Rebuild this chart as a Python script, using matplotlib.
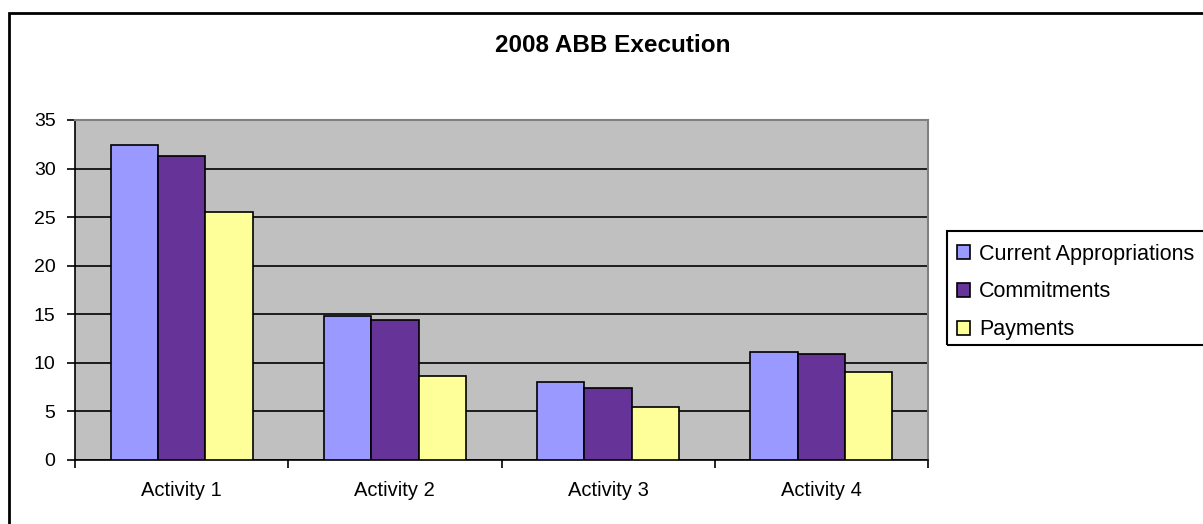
import matplotlib
matplotlib.use("Agg")
import matplotlib.pyplot as plt
import numpy as np
from matplotlib.patches import Rectangle

categories = ["Activity 1", "Activity 2", "Activity 3", "Activity 4"]
series_names = ["Current Appropriations", "Commitments", "Payments"]
current = [32.4, 14.8, 8.0, 11.1]
commitments = [31.3, 14.4, 7.4, 10.9]
payments = [25.5, 8.6, 5.5, 9.1]
colors = ["#9999FF", "#663399", "#FFFF99"]
yticks = [0, 5, 10, 15, 20, 25, 30, 35]

plt.rcParams['font.family'] = ['Liberation Sans', 'DejaVu Sans']

fig = plt.figure(figsize=(12.03, 5.24), dpi=100)
W, H = 1203, 524
ax = fig.add_axes([75 / W, (H - 460) / H, (928 - 75) / W, (460 - 120) / H])
ax.set_facecolor("#C0C0C0")

x = np.arange(len(categories))
bw = 1 / 4.5
for i, (vals, name) in enumerate(zip([current, commitments, payments], series_names)):
    ax.bar(x + (i - 1) * bw, vals, width=bw, color=colors[i], edgecolor="black",
           linewidth=1.2, label=name, zorder=3)

ax.set_xlim(-0.5, len(categories) - 0.5)
ax.set_ylim(0, 35)
ax.set_yticks(yticks)
ax.set_yticklabels([str(v) for v in yticks], fontsize=14)
ax.yaxis.grid(True, color="black", linewidth=1.2, zorder=1)
ax.set_axisbelow(True)

ax.set_xticks(np.arange(-0.5, len(categories), 1.0))
ax.set_xticklabels([])
ax.set_xticks(x, minor=True)
ax.set_xticklabels(categories, minor=True, fontsize=14.5)
ax.tick_params(axis='x', which='minor', length=0, pad=15)
ax.tick_params(axis='x', which='major', length=6, width=1.2, direction='out')
ax.tick_params(axis='y', length=6, width=1.2, direction='out', pad=8)

for s in ["top", "right"]:
    ax.spines[s].set_color("#808080")
    ax.spines[s].set_linewidth(1.5)
for s in ["left", "bottom"]:
    ax.spines[s].set_color("black")
    ax.spines[s].set_linewidth(1.2)

fig.text(613 / W, 1 - 46 / H, "2008 ABB Execution", ha="center", va="center",
         fontsize=17.5, fontweight="bold")

leg = fig.legend(loc="upper left", bbox_to_anchor=(947 / W, 1 - 234 / H),
                 fontsize=15.5, frameon=False,
                 handlelength=0.6, handleheight=0.6, handletextpad=0.45,
                 labelspacing=0.78, borderpad=0.45, borderaxespad=0)
for h in leg.legend_handles:
    h.set_linewidth(1.2)

legend_frame = Rectangle((947 / W, 1 - 345 / H), 300 / W, (345 - 231) / H,
                         transform=fig.transFigure, fill=False, edgecolor="black",
                         linewidth=1.5, clip_on=False)
fig.patches.append(legend_frame)

border = Rectangle((9 / W, -0.1), 1.2, 1.1 - 13 / H, transform=fig.transFigure,
                   fill=False, edgecolor="black", linewidth=2, clip_on=False)
fig.patches.append(border)

fig.savefig("out.png", dpi=100)
